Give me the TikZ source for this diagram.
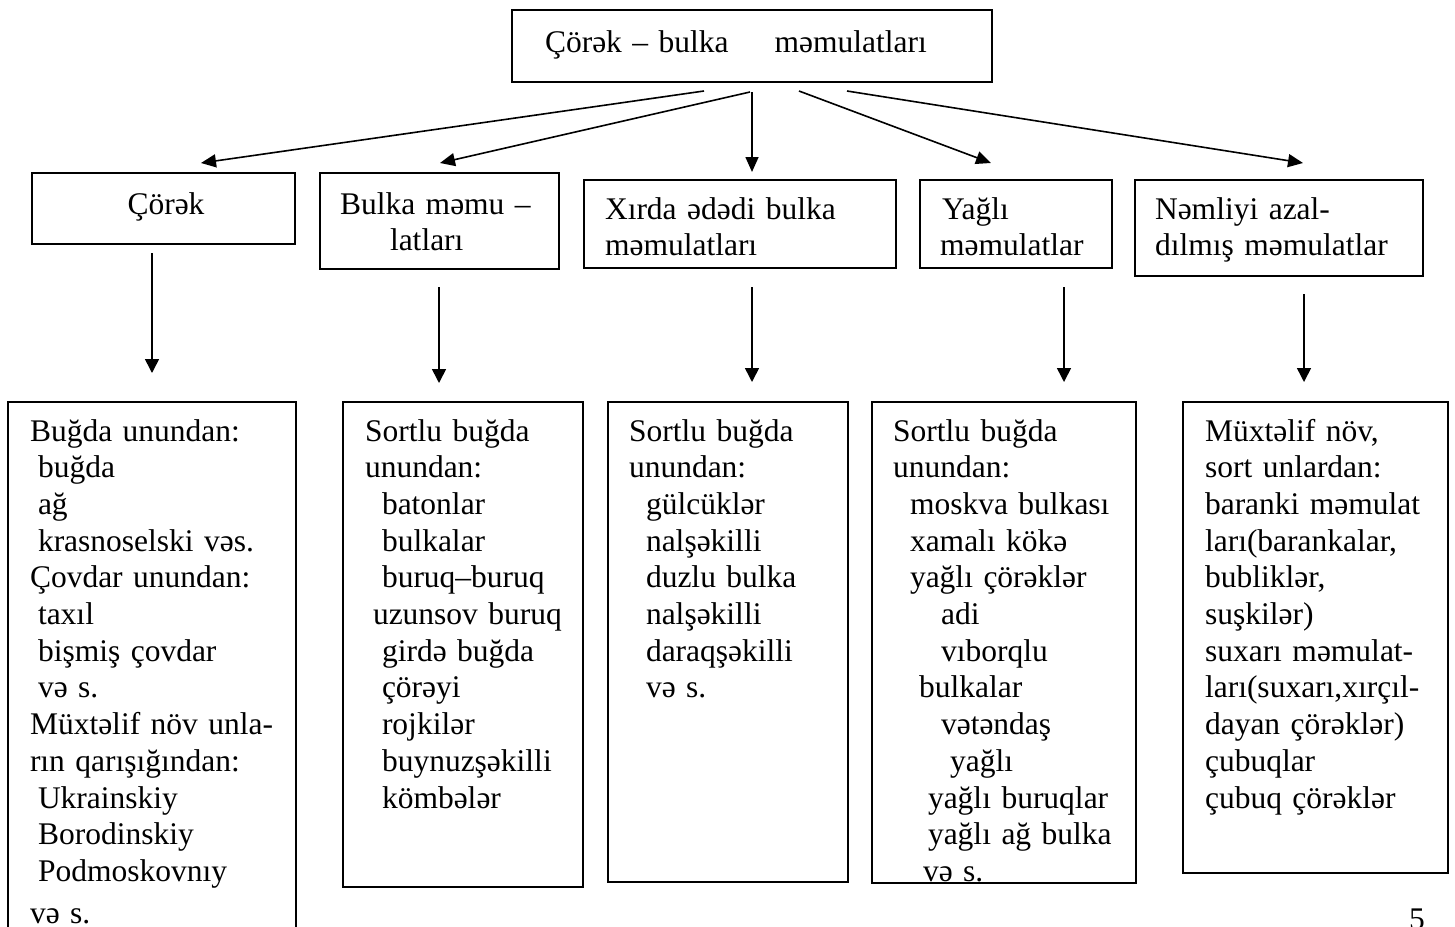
\documentclass[tikz,border=0pt]{standalone}
\usepackage{fontspec}
\setmainfont{Liberation Serif}
\usetikzlibrary{arrows.meta}
\begin{document}
\begin{tikzpicture}[x=1pt,y=-1pt,
  box/.style={draw, line width=1.6pt, inner sep=0pt, outer sep=0pt, anchor=north west},
  txt/.style={inner sep=0pt, outer sep=0pt, anchor=base west, align=left, text width=300pt,
              font=\fontsize{31.5}{36.7}\selectfont},
  arr/.style={line width=1.6pt, -{Triangle[length=15pt,width=13pt]}}]
\useasboundingbox (0,0) rectangle (1455,926);
\clip (0,0) rectangle (1455,926);

% top box
\node[box, minimum width=480pt, minimum height=72pt] (top) at (512,10) {};
\node[txt, text width=460pt] (ttop) at (545,52) {Çörək – bulka\hspace{46pt}məmulatları};

% second row
\node[box, minimum width=263pt, minimum height=71pt] (c1) at (32,173) {};
\node[box, minimum width=239pt, minimum height=96pt] (c2) at (320,173) {};
\node[box, minimum width=312pt, minimum height=88pt] (c3) at (584,180) {};
\node[box, minimum width=192pt, minimum height=88pt] (c4) at (920,180) {};
\node[box, minimum width=288pt, minimum height=96pt] (c5) at (1135,180) {};

\node[txt, anchor=base, text width=200pt, align=center] (tc1) at (166,214) {Çörək};
\node[txt] (tc2) at (340,214) {Bulka məmu –\\\hspace*{50pt}latları};
\node[txt] (tc3) at (605,219) {Xırda ədədi bulka\\məmulatları};
\node[txt] (tc4) at (940,219) {\hspace*{2pt}Yağlı\\məmulatlar};
\node[txt] (tc5) at (1155,219) {Nəmliyi azal-\\dılmış məmulatlar};

% third row
\node[box, minimum width=288pt, minimum height=560pt] (d1) at (8,402) {};
\node[box, minimum width=240pt, minimum height=485pt] (d2) at (343,402) {};
\node[box, minimum width=240pt, minimum height=480pt] (d3) at (608,402) {};
\node[box, minimum width=264pt, minimum height=481pt] (d4) at (872,402) {};
\node[box, minimum width=265pt, minimum height=471pt] (d5) at (1183,402) {};

\node[txt] (td1) at (30,441) {Buğda unundan:\\
\hspace*{8pt}buğda\\
\hspace*{8pt}ağ\\
\hspace*{8pt}krasnoselski vəs.\\
Çovdar unundan:\\
\hspace*{8pt}taxıl\\
\hspace*{8pt}bişmiş çovdar\\
\hspace*{8pt}və s.\\
Müxtəlif növ unla-\\
rın qarışığından:\\
\hspace*{8pt}Ukrainskiy\\
\hspace*{8pt}Borodinskiy\\
\hspace*{8pt}Podmoskovnıy\\[5pt]
və s.};

\node[txt] (td2) at (365,441) {Sortlu buğda\\
unundan:\\
\hspace*{17pt}batonlar\\
\hspace*{17pt}bulkalar\\
\hspace*{17pt}buruq–buruq\\
\hspace*{8pt}uzunsov buruq\\
\hspace*{17pt}girdə buğda\\
\hspace*{17pt}çörəyi\\
\hspace*{17pt}rojkilər\\
\hspace*{17pt}buynuzşəkilli\\
\hspace*{17pt}kömbələr};

\node[txt] (td3) at (629,441) {Sortlu buğda\\
unundan:\\
\hspace*{17pt}gülcüklər\\
\hspace*{17pt}nalşəkilli\\
\hspace*{17pt}duzlu bulka\\
\hspace*{17pt}nalşəkilli\\
\hspace*{17pt}daraqşəkilli\\
\hspace*{17pt}və s.};

\node[txt] (td4) at (893,441) {Sortlu buğda\\
unundan:\\
\hspace*{17pt}moskva bulkası\\
\hspace*{17pt}xamalı kökə\\
\hspace*{17pt}yağlı çörəklər\\
\hspace*{48pt}adi\\
\hspace*{48pt}vıborqlu\\
\hspace*{26pt}bulkalar\\
\hspace*{48pt}vətəndaş\\
\hspace*{57pt}yağlı\\
\hspace*{35pt}yağlı buruqlar\\
\hspace*{35pt}yağlı ağ bulka\\
\hspace*{30pt}və s.};

\node[txt] (td5) at (1205,441) {Müxtəlif növ,\\
sort unlardan:\\
baranki məmulat\\
ları(barankalar,\\
bubliklər,\\
suşkilər)\\
suxarı məmulat-\\
ları(suxarı,xırçıl-\\
dayan çörəklər)\\
çubuqlar\\
çubuq çörəklər};

% page number
\node[txt, anchor=base west, text width=40pt] (pg) at (1409,929) {5};

% connectors from the top box
\coordinate (s1) at (704,91);
\coordinate (s2) at (750,92);
\coordinate (s3) at (752,92);
\coordinate (s4) at (799,91);
\coordinate (s5) at (847,91);
\coordinate (e1) at (201,163);
\coordinate (e2) at (440,163);
\coordinate (e3) at (752,172);
\coordinate (e4) at (991,163);
\coordinate (e5) at (1303,163);
\foreach \i in {1,...,5} \draw[arr] (s\i) -- (e\i);

% connectors into the lower boxes
\coordinate (u1) at (152,253);  \coordinate (v1) at (152,373);
\coordinate (u2) at (439,287);  \coordinate (v2) at (439,383);
\coordinate (u3) at (752,287);  \coordinate (v3) at (752,382);
\coordinate (u4) at (1064,287); \coordinate (v4) at (1064,382);
\coordinate (u5) at (1304,294); \coordinate (v5) at (1304,382);
\foreach \i in {1,...,5} \draw[arr, -{Triangle[length=14pt,width=14pt]}] (u\i) -- (v\i);
\end{tikzpicture}
\end{document}
